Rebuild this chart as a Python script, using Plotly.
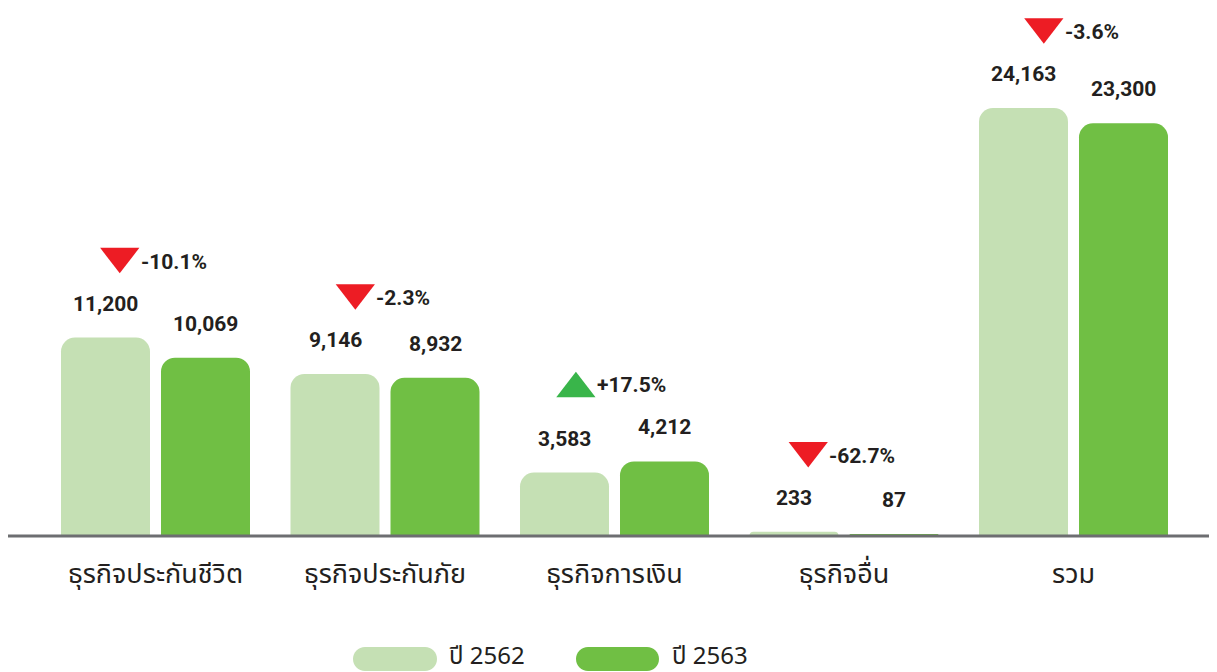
import plotly.graph_objects as go

# ---------------- data ----------------
categories = ["ธุรกิจประกันชีวิต", "ธุรกิจประกันภัย", "ธุรกิจการเงิน", "ธุรกิจอื่น", "รวม"]
series_names = ["ปี 2562", "ปี 2563"]
values_2562 = [11200, 9146, 3583, 233, 24163]
values_2563 = [10069, 8932, 4212, 87, 23300]
change_labels = ["-10.1%", "-2.3%", "+17.5%", "-62.7%", "-3.6%"]

# ---------------- style / layout ----------------
OFF = 8                  # page body margin
W, H = 1217 - OFF, 672 - OFF
PLOT_H = 536 - OFF
M_B = H - PLOT_H
CAT_PX = 229.5           # pixels per category
FIRST_CENTER_PX = 155.5 - OFF
X0 = -FIRST_CENTER_PX / CAT_PX
X1 = X0 + W / CAT_PX
Y_MAX = PLOT_H * 24163 / 428.0
UNIT_PER_PX_Y = Y_MAX / PLOT_H

LIGHT = "#c5e0b4"
DARK = "#70bf44"
RED = "#ed1c24"
GREEN_UP = "#39b54a"
TXT = "#231f20"
BASE = "#6d6e71"
NUM_FONT = "Roboto, DejaVu Sans, sans-serif"
THAI_FONT = "Noto Sans Thai, Noto Sans, Tahoma, DejaVu Sans, sans-serif"

BARGAP = 0.1285
BARGROUPGAP = 0.11
slot = (1 - BARGAP) / 2
xs = list(range(len(categories)))

fig = go.Figure()
for name, vals, col in [(series_names[0], values_2562, LIGHT), (series_names[1], values_2563, DARK)]:
    fig.add_trace(go.Bar(
        x=xs, y=vals, name=name,
        marker=dict(color=col, cornerradius=14, line=dict(width=0)),
        hoverinfo="skip", showlegend=False,
    ))

annotations = []
# value labels
for vals, sign in [(values_2562, -1), (values_2563, 1)]:
    for i, v in enumerate(vals):
        annotations.append(dict(
            x=i + sign * slot / 2, y=v, xref="x", yref="y",
            text=f"{v:,}", showarrow=False, yanchor="middle", xanchor="center",
            yshift=34, font=dict(family=NUM_FONT, size=21, color=TXT, weight="bold"),
        ))

# change markers
char_w = {"-": 0.33, "+": 0.6, ".": 0.27, "%": 0.78}
FS_PCT = 21
TRI_W = 40
tri_x, tri_y, tri_sym, tri_col = [], [], [], []
r = 17
for i, lab in enumerate(change_labels):
    tw = sum(char_w.get(c, 0.58) for c in lab) * FS_PCT
    group_w = TRI_W + 2 + tw
    cx_px = -group_w / 2 + TRI_W / 2 - 2
    tx = i + cx_px / CAT_PX
    up = lab.startswith("+")
    top = max(values_2562[i], values_2563[i])
    centre_y = top + 77 * UNIT_PER_PX_Y
    adj = (r / 4) * UNIT_PER_PX_Y
    tri_x.append(tx)
    tri_y.append(centre_y - adj if up else centre_y + adj)
    tri_sym.append("triangle-up" if up else "triangle-down")
    tri_col.append(GREEN_UP if up else RED)
    annotations.append(dict(
        x=tx, y=centre_y, xref="x", yref="y", text=lab, showarrow=False,
        xanchor="left", yanchor="middle", xshift=TRI_W / 2 - 1, yshift=-1,
        font=dict(family=NUM_FONT, size=FS_PCT, color=TXT, weight="bold"),
    ))

fig.add_trace(go.Scatter(
    x=tri_x, y=tri_y, mode="markers",
    marker=dict(symbol=tri_sym, size=2 * r, color=tri_col, line=dict(width=0)),
    hoverinfo="skip", showlegend=False, cliponaxis=False,
))

# ---------------- custom legend ----------------
def px2paper(px, py):
    return (px - OFF) / W, (PLOT_H - (py - OFF)) / PLOT_H

def pill(x0, x1, y0, y1):
    rr = (y1 - y0) / 2
    yc = (y0 + y1) / 2
    k = 0.5523 * rr
    pts = [
        ("M", [(x0 + rr, y0)]),
        ("L", [(x1 - rr, y0)]),
        ("C", [(x1 - rr + k, y0), (x1, yc - k), (x1, yc)]),
        ("C", [(x1, yc + k), (x1 - rr + k, y1), (x1 - rr, y1)]),
        ("L", [(x0 + rr, y1)]),
        ("C", [(x0 + rr - k, y1), (x0, yc + k), (x0, yc)]),
        ("C", [(x0, yc - k), (x0 + rr - k, y0), (x0 + rr, y0)]),
    ]
    s = ""
    for cmd, ps in pts:
        s += cmd + " ".join("%.5f,%.5f" % px2paper(a, b) for a, b in ps) + " "
    return s + "Z"

shapes = []
legend_items = [(353, 437, 447, LIGHT, series_names[0]), (576, 659, 670, DARK, series_names[1])]
for x0, x1, tx, col, name in legend_items:
    shapes.append(dict(type="path", xref="paper", yref="paper", path=pill(x0, x1, 647, 671),
                       fillcolor=col, line=dict(width=0), layer="above"))
    px_, py_ = px2paper(tx, 657)
    annotations.append(dict(x=px_, y=py_, xref="paper", yref="paper", text=name, showarrow=False,
                            xanchor="left", yanchor="middle",
                            font=dict(family=THAI_FONT, size=24, color=TXT)))

# baseline (paper refs so it is not clipped at the plot edge)
shapes.append(dict(type="line", xref="paper", yref="paper", x0=0, x1=1, y0=0, y1=0,
                   line=dict(color=BASE, width=3), layer="above"))

fig.update_layout(
    width=W, height=H,
    margin=dict(l=0, r=0, t=0, b=M_B, pad=0),
    paper_bgcolor="white", plot_bgcolor="white",
    barmode="group", bargap=BARGAP, bargroupgap=BARGROUPGAP,
    showlegend=False,
    xaxis=dict(range=[X0, X1], tickvals=xs, ticktext=categories, showgrid=False,
               zeroline=False, showline=False, ticks="", ticklabelstandoff=19,
               tickfont=dict(family=THAI_FONT, size=27, color=TXT), fixedrange=True),
    yaxis=dict(range=[0, Y_MAX], visible=False, fixedrange=True),
    annotations=annotations, shapes=shapes,
)

fig.write_html("out.html")
